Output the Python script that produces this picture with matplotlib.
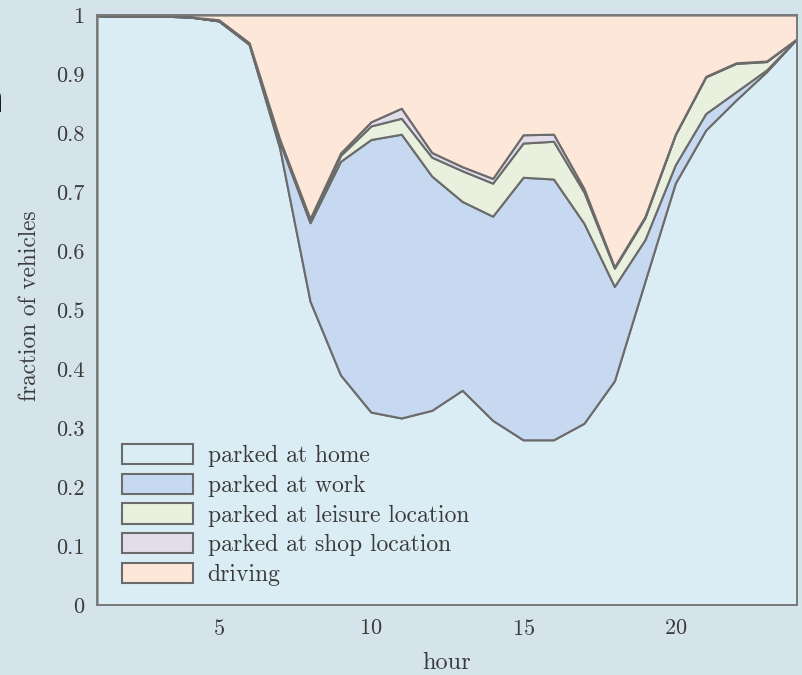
import matplotlib
matplotlib.use("Agg")
import matplotlib.pyplot as plt
import numpy as np

plt.rcParams['font.family'] = ['cmr10', 'DejaVu Serif']
plt.rcParams['axes.formatter.use_mathtext'] = True

hours = list(range(1, 25))

# cumulative tops, turned into layer shares below
home_top    = [0.999, 0.998, 0.998, 0.997, 0.990, 0.950, 0.775, 0.515, 0.390, 0.327,
               0.317, 0.330, 0.364, 0.313, 0.280, 0.280, 0.308, 0.380, 0.548, 0.715,
               0.805, 0.856, 0.904, 0.960]
work_top    = [0.999, 0.998, 0.998, 0.997, 0.990, 0.951, 0.785, 0.648, 0.752, 0.789,
               0.798, 0.727, 0.684, 0.659, 0.725, 0.722, 0.647, 0.540, 0.619, 0.746,
               0.833, 0.870, 0.907, 0.960]
leisure_top = [0.999, 0.998, 0.998, 0.997, 0.991, 0.952, 0.788, 0.650, 0.762, 0.812,
               0.825, 0.759, 0.736, 0.715, 0.783, 0.786, 0.700, 0.571, 0.656, 0.797,
               0.895, 0.918, 0.921, 0.960]
shop_top    = [0.999, 0.998, 0.998, 0.997, 0.992, 0.953, 0.790, 0.655, 0.766, 0.819,
               0.842, 0.767, 0.743, 0.723, 0.797, 0.798, 0.706, 0.573, 0.658, 0.798,
               0.896, 0.919, 0.922, 0.960]

home = np.array(home_top)
work = np.array(work_top) - np.array(home_top)
leisure = np.array(leisure_top) - np.array(work_top)
shop = np.array(shop_top) - np.array(leisure_top)
driving = 1 - np.array(shop_top)

labels = ['parked at home', 'parked at work', 'parked at leisure location',
          'parked at shop location', 'driving']
colors = ['#dbedf4', '#c6d9f0', '#e9f0dd', '#e3ddeb', '#fde7d9']

fig = plt.figure(figsize=(8.03, 6.75), dpi=100, facecolor='#d5e3ea')
ax = fig.add_axes([97/803, 70/675, 700/803, 590/675])
ax.stackplot(hours, home, work, leisure, shop, driving, labels=labels,
             colors=colors, edgecolor='#6b6b6b', linewidth=1.5)

ax.set_xlim(1, 24)
ax.set_ylim(0, 1)
ax.set_xticks([5, 10, 15, 20])
ax.set_yticks(np.arange(0, 1.01, 0.1))
ax.set_yticklabels(['0', '0.1', '0.2', '0.3', '0.4', '0.5', '0.6', '0.7', '0.8', '0.9', '1'])
ax.tick_params(length=0, labelsize=16, colors='#3a3a3a')
ax.tick_params(axis='y', pad=9)
ax.tick_params(axis='x', pad=10)
for s in ax.spines.values():
    s.set_color('#7a7a7a')
    s.set_linewidth(1.4)

ax.set_xlabel('hour', fontsize=17.5, color='#3a3a3a', va='center')
ax.xaxis.set_label_coords(0.5, -0.098)
ax.set_ylabel('fraction of vehicles', fontsize=16.8, color='#3a3a3a', va='center')
ax.yaxis.set_label_coords(-0.096, 0.508)

ax.legend(loc='lower left', bbox_to_anchor=(25/700, 19/590), frameon=False, fontsize=17,
          handlelength=3.0, handleheight=0.95, labelspacing=0.27, handletextpad=0.63,
          borderpad=0, borderaxespad=0, labelcolor='#3a3a3a')

# clipped slide text at the left edge
fig.text(4/803, 1 - 112/675, 'n', fontsize=30, family='DejaVu Sans', ha='right', va='baseline')

fig.savefig('out.png', dpi=100, facecolor=fig.get_facecolor())
